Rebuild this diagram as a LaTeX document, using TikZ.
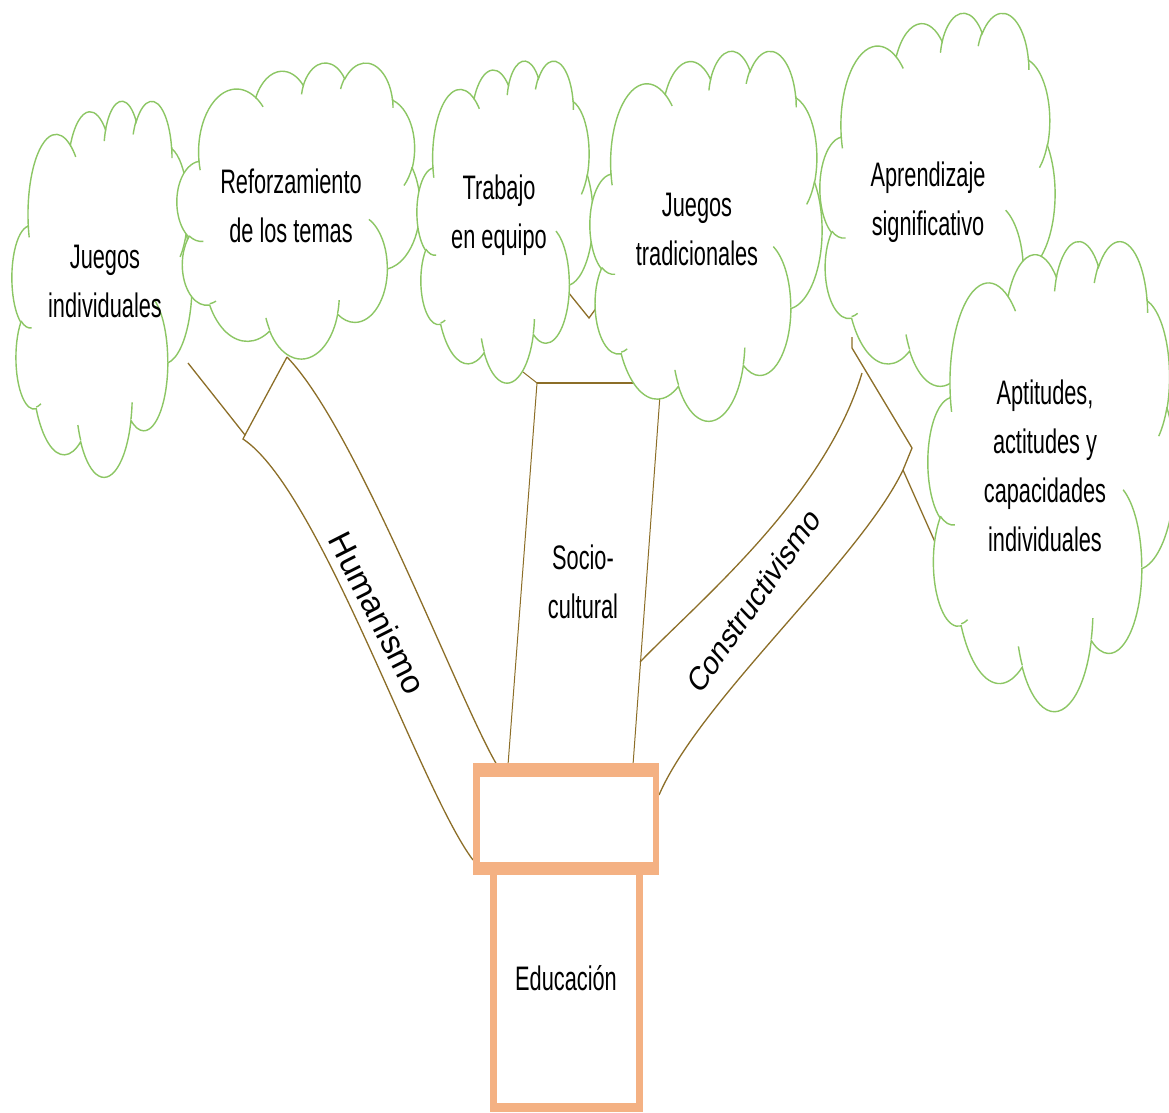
\documentclass[tikz,border=0pt]{standalone}
\usepackage{fontspec}
\setmainfont{Liberation Sans}
\newfontfamily\narrowf{Liberation Sans}[FakeStretch=0.64]
\newfontfamily\obliquef{Liberation Sans}[FakeSlant=0.21]
\definecolor{cloudgreen}{RGB}{140,198,100}
\definecolor{branchbrown}{RGB}{140,110,40}
\definecolor{trunkorange}{RGB}{244,177,131}
\tikzset{
  carc/.style n args={4}{insert path={arc[x radius=#1, y radius=#2,
     start angle={atan2(#1*sin(#3),#2*cos(#3))},
     delta angle={mod(atan2(#1*sin(#3+#4),#2*cos(#3+#4))-atan2(#1*sin(#3),#2*cos(#3))+720,360)}]}},
  cloudline/.style={draw=cloudgreen, line width=1.4pt},
  branchline/.style={draw=branchbrown, line width=1.3pt, line join=miter},
  thinbranch/.style={draw=branchbrown, line width=1pt, line join=miter},
  cloudtext/.style={font=\narrowf\fontsize{34}{49}\selectfont, align=center, text=black, inner sep=0pt},
  humlabel/.style={font=\fontsize{33}{40}\selectfont, text=black, inner sep=0pt},
  conlabel/.style={font=\obliquef\fontsize{30}{36}\selectfont, text=black, inner sep=0pt},
  orangebox/.style={rectangle, fill=trunkorange, draw=none, inner sep=0pt},
  whitebox/.style={rectangle, fill=white, draw=none, inner sep=0pt},
}
\newcommand\officecloud[5]{%
  \begin{scope}[shift={(#2,#3)}, xscale=#4/432, yscale=#5/432]
    \coordinate (#1) at (216,216);
    \path[cloudline, fill=white] (39.00,143.70)
      [carc={67.53}{91.90}{-190.4875}{123.7805}]
      [carc={53.33}{72.67}{-144.1024}{89.9452}]
      [carc={43.65}{59.45}{-145.8079}{99.7230}]
      [carc={48.57}{65.95}{-130.9861}{117.2417}]
      [carc={53.33}{72.73}{-78.7089}{109.0269}]
      [carc={67.75}{92.20}{-46.2673}{130.2690}]
      [carc={57.85}{78.67}{0.6250}{114.0333}]
      [carc={67.52}{92.15}{22.4516}{115.1726}]
      [carc={77.20}{105.43}{66.2426}{75.7110}]
      [carc={43.60}{59.18}{-274.9421}{146.7356}]
      [carc={43.45}{59.45}{-246.8285}{152.5189}]
      -- cycle;
    \path[cloudline]
      (46.93,261.77) [carc={43.45}{59.45}{86.7420}{26.4295}]
      (69.28,348.99) [carc={43.60}{59.18}{73.6105}{11.4475}]
      (164.78,390.90) [carc={67.52}{92.15}{137.6242}{14.0811}]
      (288.27,347.51) [carc={67.52}{92.15}{6.4533}{15.9984}]
      (341.29,229.54) [carc={57.85}{78.67}{-70.2924}{70.9174}]
      (417.98,153.54) [carc={53.33}{72.73}{30.3180}{27.7515}]
      (383.24,54.26) [carc={48.57}{65.95}{-13.7443}{14.8589}]
      (290.78,39.52) [carc={48.57}{65.95}{-149.1815}{18.1954}]
      (221.41,47.20) [carc={43.65}{59.45}{-163.4943}{17.6864}]
      (140.00,51.92) [carc={67.53}{91.90}{-66.7070}{12.3194}]
      (41.27,157.89) [carc={67.53}{91.90}{157.6544}{11.8582}];
  \end{scope}}
\begin{document}
\begin{tikzpicture}[x=1pt, y=-1pt]
\useasboundingbox (0,0) rectangle (1169,1112);
% ---------- branches ----------
% Constructivismo
\coordinate (conUL) at (640,662);
\coordinate (conUR) at (862,373);
\coordinate (conLL) at (659,795);
\coordinate (conLR) at (903,470);
\coordinate (conTip) at (912,448);
\coordinate (conTop) at (852,337);
\coordinate (conSub) at (935,542);
\draw[branchline] (conUL) .. controls (700,600) and (825,497) .. (conUR);
\draw[branchline] (conLL) .. controls (700,700) and (860,560) .. (conLR);
\draw[branchline] (conTop) -- (852,348) -- (conTip) -- (conLR) -- (conSub);
% Sociocultural
\coordinate (socSub) at (523,372);
\coordinate (socTL) at (537,383);
\coordinate (socTR) at (640,383);
\coordinate (socBL) at (508,765);
\coordinate (socRT) at (660,395);
\coordinate (socBR) at (633,765);
\draw[thinbranch] (socSub) -- (socTL) -- (socBL);
\draw[branchline] (socTL) -- (socTR);
\draw[thinbranch] (socRT) -- (socBR);
\draw[branchline] (568,292) -- (589,318) -- (597,307);
% Humanismo
\coordinate (humSub) at (188,363);
\coordinate (humJ) at (245,435);
\coordinate (humTR) at (287,357);
\coordinate (humBL) at (473,860);
\coordinate (humBR) at (497,765);
\draw[branchline] (humSub) -- (humJ) -- (humTR);
\draw[branchline] (humJ) -- (243,439) .. controls (320,490) and (420,790) .. (humBL);
\draw[branchline] (humTR) .. controls (357,429) and (459,701) .. (humBR);
% ---------- clouds ----------
\officecloud{c1}{12}{100}{180}{376}
\officecloud{c2}{177}{62}{243}{296}
\officecloud{c3}{417}{60}{176}{322}
\officecloud{c4}{590}{50}{232}{370}
\officecloud{c5}{820}{12}{235}{373}
\officecloud{c6}{928}{240}{247}{470}
\node[cloudtext] (ji) at (105,281) {Juegos\\individuales};
\node[cloudtext] (rt) at (291,206) {Reforzamiento\\de los temas};
\node[cloudtext] (te) at (499,215) {Trabajo\\en equipo};
\node[cloudtext] (jt) at (697,229) {Juegos\\tradicionales};
\node[cloudtext] (as) at (928,202) {Aprendizaje\\significativo};
\node[cloudtext] (ac) at (1045,466) {Aptitudes,\\actitudes y\\capacidades\\individuales};
% ---------- labels ----------
\node[humlabel, rotate=-63.1] (hum) at (378,613) {Humanismo};
\node[cloudtext] (soc) at (583,582) {Socio-\\cultural};
\node[conlabel, rotate=55.3] (con) at (752,602) {Constructivismo};
% ---------- trunk ----------
\node[orangebox, minimum width=186pt, minimum height=112pt] (crown) at (566,819) {};
\node[whitebox, minimum width=173pt, minimum height=85pt] (crownin) at (566.5,819.5) {};
\node[orangebox, minimum width=153pt, minimum height=237pt] (trunk) at (566.5,993.5) {};
\node[whitebox, minimum width=139pt, minimum height=228pt] (trunkin) at (566.5,989) {};
\node[cloudtext] (edu) at (566,978) {Educación};
\end{tikzpicture}
\end{document}
